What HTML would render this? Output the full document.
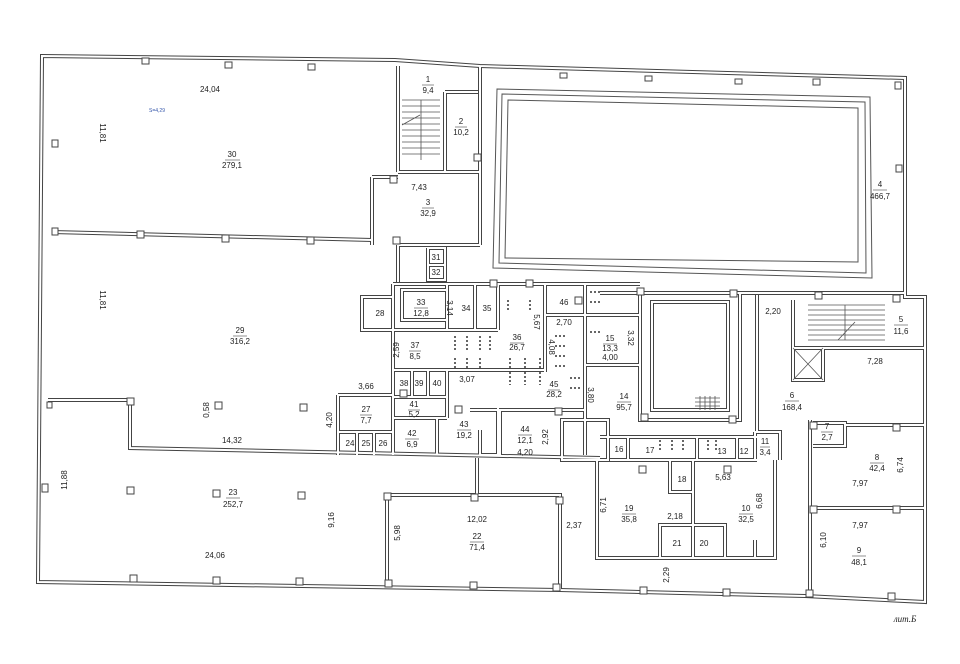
<!DOCTYPE html>
<html><head><meta charset="utf-8"><style>
html,body{margin:0;padding:0;background:#fff;}
svg{display:block;}
text{font-family:"Liberation Sans",sans-serif;font-size:8px;fill:#222;text-anchor:middle;}
</style></head><body>
<svg width="960" height="664" viewBox="0 0 960 664" xmlns="http://www.w3.org/2000/svg">
<rect width="960" height="664" fill="#fff"/>
<defs>
<g id="w" fill="none" stroke-linejoin="miter">
<!-- outer -->
<path d="M42,56 L395,60 L480,66 L905,78 L905,297 L925,297 L925,602 L805,596 L560,590 L38,582 Z"/>
<!-- 30/29 -->
<path d="M52,232 L372,240"/>
<!-- stair 1 / room 2 -->
<path d="M398,66 V172 M480,66 V172 M445,92 H478 M445,92 V172 M398,172 H480"/>
<!-- room 3 -->
<path d="M372,177 H398 M372,177 V245 M480,172 V245 M398,245 H480"/>
<!-- 31/32 -->
<path d="M398,245 V282 M428,248 V280 H445 V248 H428 M428,265 H445"/>
<!-- central block -->
<path d="M393,284 H640 M393,284 V455 M447,284 V330 M475,284 V330 M498,284 V330 M393,330 H498 M545,284 V372 M545,315 H585 M585,284 V455"/>
<path d="M362,297 H393 V330 H362 Z M402,290 H447 V320 H402 Z"/>
<path d="M585,315 H640 V365 H585"/>
<path d="M393,370 H545 M412,370 V397 M428,370 V397 M447,370 V418 M393,397 H447 M393,418 H447 M437,418 V455 M498,408 V455 M470,410 H585 M500,410 V455 M480,430 V455 H498"/>
<path d="M338,395 H393 V455 M338,395 V455 M338,432 H393 M357,432 V455 M374,432 V455"/>
<path d="M562,420 H608 V460 H562 Z"/>
<!-- corridor wall lower -->
<path d="M48,400 H130 V448 L600,458"/>
<!-- rooms 16..12 and 11 -->
<path d="M600,437 H757 M610,460 H757 M628,437 V460 M697,437 V460 M737,437 V460 M755,432 H780 V460 M755,432 V460"/>
<!-- pool 2 -->
<path d="M640,293 H740 V420 H640 Z M652,302 H728 V410 H652 Z"/>
<path d="M757,295 V432 M600,293 H905"/>
<!-- stairs 5 / lift -->
<path d="M793,300 V348 H823 M793,348 V380 H823 V348 M823,348 H925"/>
<!-- corridor 6 right, rooms 7,8,9 -->
<path d="M810,420 V596 M813,423 H845 V446 H813 M845,425 H925 M810,508 H925"/>
<!-- 19/10 -->
<path d="M597,460 V558 H775 V460 M693,460 V558 M670,460 V492 H693 M660,558 V525 H725 V558 M755,540 V558"/>
<!-- 22 -->
<path d="M387,495 H560 V590 M387,495 V583 M477,458 V495"/>
</g>
</defs>
<g stroke="#444"><use href="#w" stroke-width="4"/></g>
<g stroke="#fff"><use href="#w" stroke-width="2"/></g>
<!-- pool -->
<g fill="none" stroke="#555" stroke-width="1">
<path d="M497,89 L870,97 L872,278 L493,268 Z"/>
<path d="M502,94 L865,102 L866,273 L499,263 Z"/>
<path d="M508,100 L858,108 L858,262 L505,258 Z"/>
</g>
<!-- stairs lines -->
<g stroke="#555" stroke-width="0.8">
<path d="M402,100 H440 M402,106 H440 M402,112 H440 M402,118 H440 M402,124 H440 M402,130 H440 M402,136 H440 M402,142 H440 M402,148 H440 M402,154 H440 M421,100 V160 M402,125 L420,115"/>
<path d="M808,305 H885 M808,310 H885 M808,315 H885 M808,320 H885 M808,325 H885 M808,330 H885 M808,335 H885 M808,340 H885 M845,305 V340 M838,340 L855,322"/>
<path d="M793,348 L823,380 M823,348 L793,380"/>
<path d="M695,398 H720 M695,402 H720 M695,406 H720 M700,396 V410 M705,396 V410 M710,396 V410 M715,396 V410"/>
</g>
<!-- dashed -->
<g stroke="#333" stroke-width="1.5" stroke-dasharray="2,2">
<path d="M455,336 V350 M467,336 V350 M480,336 V350 M490,336 V350 M455,358 V370 M467,358 V370 M480,358 V370 M510,358 V370 M525,358 V370 M540,358 V370 M508,300 V310 M530,300 V310 M510,372 V385 M525,372 V385 M540,372 V385 M660,440 V450 M672,440 V450 M683,440 V450 M708,440 V450 M716,440 V450"/>
<path d="M590,292 H600 M590,302 H600 M590,332 H600 M555,336 H565 M555,346 H565 M555,356 H565 M555,366 H565 M570,378 H580 M570,388 H580"/>
</g>
<!-- pillars -->
<g fill="#fff" stroke="#444" stroke-width="1">
<rect x="142" y="58" width="7" height="6"/><rect x="225" y="62" width="7" height="6"/><rect x="308" y="64" width="7" height="6"/>
<rect x="52" y="140" width="6" height="7"/><rect x="52" y="228" width="6" height="7"/><rect x="137" y="231" width="7" height="7"/><rect x="222" y="235" width="7" height="7"/><rect x="307" y="237" width="7" height="7"/>
<rect x="390" y="176" width="7" height="7"/><rect x="393" y="237" width="7" height="7"/><rect x="474" y="154" width="7" height="7"/>
<rect x="560" y="73" width="7" height="5"/><rect x="645" y="76" width="7" height="5"/><rect x="735" y="79" width="7" height="5"/><rect x="813" y="79" width="7" height="6"/><rect x="895" y="82" width="6" height="7"/><rect x="896" y="165" width="6" height="7"/>
<rect x="575" y="297" width="7" height="7"/><rect x="526" y="280" width="7" height="7"/><rect x="490" y="280" width="7" height="7"/>
<rect x="637" y="288" width="7" height="7"/><rect x="730" y="290" width="7" height="7"/><rect x="815" y="292" width="7" height="7"/><rect x="893" y="295" width="7" height="7"/>
<rect x="641" y="414" width="7" height="7"/><rect x="729" y="416" width="7" height="7"/><rect x="810" y="422" width="7" height="7"/><rect x="893" y="424" width="7" height="7"/><rect x="810" y="506" width="7" height="7"/><rect x="893" y="506" width="7" height="7"/>
<rect x="47" y="402" width="5" height="6"/><rect x="127" y="398" width="7" height="7"/><rect x="215" y="402" width="7" height="7"/><rect x="300" y="404" width="7" height="7"/><rect x="455" y="406" width="7" height="7"/><rect x="555" y="408" width="7" height="7"/><rect x="400" y="390" width="7" height="7"/>
<rect x="42" y="484" width="6" height="8"/><rect x="127" y="487" width="7" height="7"/><rect x="213" y="490" width="7" height="7"/><rect x="298" y="492" width="7" height="7"/><rect x="384" y="493" width="7" height="7"/><rect x="471" y="494" width="7" height="7"/><rect x="556" y="497" width="7" height="7"/>
<rect x="130" y="575" width="7" height="7"/><rect x="213" y="577" width="7" height="7"/><rect x="296" y="578" width="7" height="7"/><rect x="385" y="580" width="7" height="7"/><rect x="470" y="582" width="7" height="7"/><rect x="553" y="584" width="7" height="7"/>
<rect x="640" y="587" width="7" height="7"/><rect x="723" y="589" width="7" height="7"/><rect x="806" y="590" width="7" height="7"/><rect x="888" y="593" width="7" height="7"/>
<rect x="639" y="466" width="7" height="7"/><rect x="724" y="466" width="7" height="7"/>
</g>
<!-- labels -->
<g stroke="#222" stroke-width="0.6">
<path d="M225,160 H240 M422,85 H434 M455,127 H467 M422,208 H434 M873,190 H887 M233,336 H247 M414,308 H428 M510,343 H524 M409,351 H421 M603,344 H617 M617,402 H631 M548,390 H560 M360,415 H372 M408,410 H420 M405,439 H419 M457,430 H471 M518,435 H532 M760,447 H770 M894,325 H908 M785,401 H799 M821,432 H833 M870,463 H884 M622,514 H636 M739,514 H753 M852,556 H866 M226,498 H240 M470,542 H484"/>
</g>
<text x="210" y="92">24,04</text>
<text x="157" y="112" style="font-size:5px;fill:#3355aa">S=4,29</text>
<text transform="translate(100,133) rotate(90)">11,81</text>
<text x="232" y="157">30</text><text x="232" y="168">279,1</text>
<text x="428" y="82">1</text><text x="428" y="93">9,4</text>
<text x="461" y="124">2</text><text x="461" y="135">10,2</text>
<text x="419" y="190">7,43</text>
<text x="428" y="205">3</text><text x="428" y="216">32,9</text>
<text x="880" y="187">4</text><text x="880" y="199">466,7</text>
<text transform="translate(100,300) rotate(90)">11,81</text>
<text x="240" y="333">29</text><text x="240" y="344">316,2</text>
<text x="436" y="260">31</text><text x="436" y="275">32</text>
<text x="421" y="305">33</text><text x="421" y="316">12,8</text>
<text transform="translate(447,308) rotate(90)">3,14</text>
<text x="466" y="311">34</text><text x="487" y="311">35</text>
<text x="517" y="340">36</text><text x="517" y="350">26,7</text>
<text transform="translate(534,322) rotate(90)">5,67</text>
<text x="564" y="305">46</text><text x="564" y="325">2,70</text>
<text x="380" y="316">28</text>
<text transform="translate(399,350) rotate(-90)">2,59</text>
<text x="415" y="348">37</text><text x="415" y="359">8,5</text>
<text transform="translate(549,347) rotate(90)">4,08</text>
<text x="610" y="341">15</text><text x="610" y="351">13,3</text><text x="610" y="360">4,00</text>
<text transform="translate(628,338) rotate(90)">3,32</text>
<text x="624" y="399">14</text><text x="624" y="410">95,7</text>
<text transform="translate(588,395) rotate(90)">3,80</text>
<text x="366" y="389">3,66</text>
<text x="404" y="386">38</text><text x="419" y="386">39</text><text x="437" y="386">40</text>
<text x="467" y="382">3,07</text>
<text x="554" y="387">45</text><text x="554" y="397">28,2</text>
<text x="366" y="412">27</text><text x="366" y="423">7,7</text>
<text x="414" y="407">41</text><text x="414" y="417">5,2</text>
<text transform="translate(332,420) rotate(-90)">4,20</text>
<text transform="translate(209,410) rotate(-90)">0,58</text>
<text x="412" y="436">42</text><text x="412" y="447">6,9</text>
<text x="464" y="427">43</text><text x="464" y="438">19,2</text>
<text x="525" y="432">44</text><text x="525" y="443">12,1</text>
<text transform="translate(548,437) rotate(-90)">2,92</text>
<text x="525" y="455">4,20</text>
<text x="350" y="446">24</text><text x="366" y="446">25</text><text x="383" y="446">26</text>
<text x="232" y="443">14,32</text>
<text x="619" y="452">16</text><text x="650" y="453">17</text><text x="722" y="454">13</text><text x="744" y="454">12</text>
<text x="765" y="444">11</text><text x="765" y="455">3,4</text>
<text x="773" y="314">2,20</text>
<text x="901" y="322">5</text><text x="901" y="334">11,6</text>
<text x="875" y="364">7,28</text>
<text x="792" y="398">6</text><text x="792" y="410">168,4</text>
<text x="827" y="429">7</text><text x="827" y="440">2,7</text>
<text x="877" y="460">8</text><text x="877" y="471">42,4</text>
<text transform="translate(903,465) rotate(-90)">6,74</text>
<text x="860" y="486">7,97</text>
<text x="723" y="480">5,63</text>
<text x="682" y="482">18</text>
<text transform="translate(606,505) rotate(-90)">6,71</text>
<text x="629" y="511">19</text><text x="629" y="522">35,8</text>
<text x="746" y="511">10</text><text x="746" y="522">32,5</text>
<text transform="translate(762,501) rotate(-90)">6,68</text>
<text x="675" y="519">2,18</text>
<text x="677" y="546">21</text><text x="704" y="546">20</text>
<text transform="translate(669,575) rotate(-90)">2,29</text>
<text transform="translate(826,540) rotate(-90)">6,10</text>
<text x="860" y="528">7,97</text>
<text x="859" y="553">9</text><text x="859" y="565">48,1</text>
<text transform="translate(67,480) rotate(-90)">11,88</text>
<text x="233" y="495">23</text><text x="233" y="507">252,7</text>
<text transform="translate(334,520) rotate(-90)">9,16</text>
<text x="215" y="558">24,06</text>
<text x="477" y="522">12,02</text>
<text transform="translate(400,533) rotate(-90)">5,98</text>
<text x="477" y="539">22</text><text x="477" y="550">71,4</text>
<text x="574" y="528">2,37</text>
<text x="905" y="622" style="font-family:'Liberation Serif',serif;font-style:italic;font-size:9px">лит.Б</text>
</svg>
</body></html>
